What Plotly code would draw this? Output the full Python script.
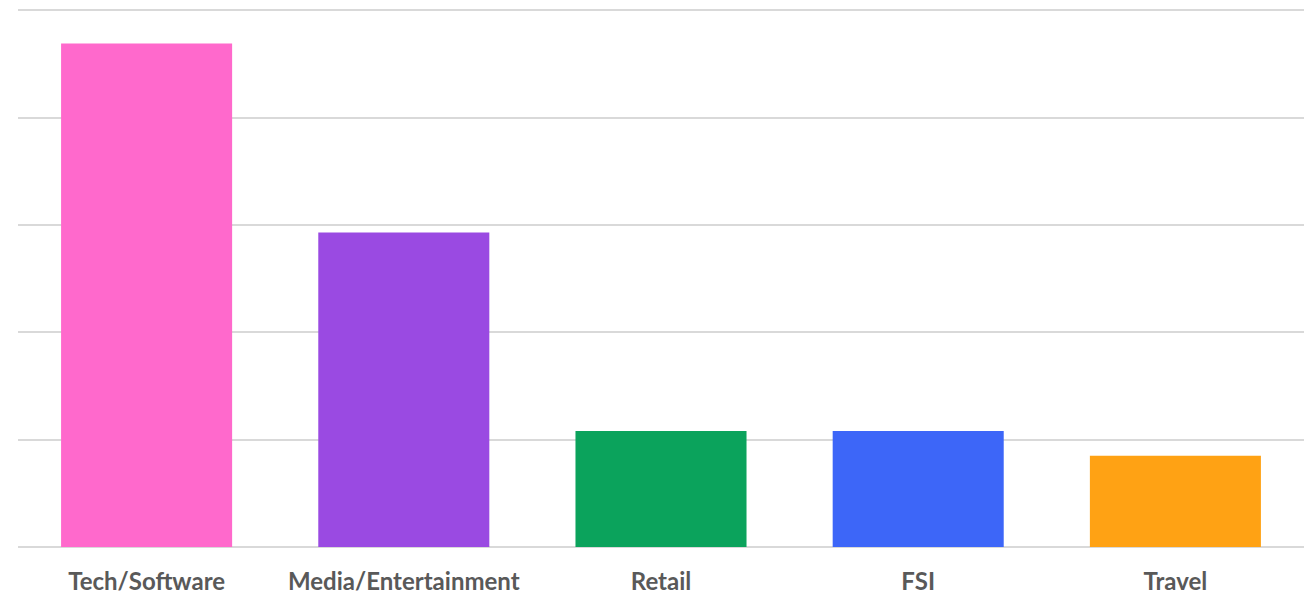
import plotly.graph_objects as go

categories = ["Tech/Software", "Media/Entertainment", "Retail", "FSI", "Travel"]
values = [4.69, 2.93, 1.08, 1.08, 0.85]
colors = ["#FF69CC", "#9A4AE2", "#0BA35C", "#3D66F8", "#FFA214"]

fig = go.Figure(
    go.Bar(
        x=categories,
        y=values,
        marker=dict(color=colors, line=dict(width=0)),
        hoverinfo="x+y",
    )
)

fig.update_layout(
    width=1309,
    height=597,
    margin=dict(l=18, r=5, t=8, b=50),
    paper_bgcolor="white",
    plot_bgcolor="white",
    bargap=0.335,
    showlegend=False,
    font=dict(family="Lato, Open Sans, sans-serif"),
)

fig.update_xaxes(
    showgrid=False,
    showline=False,
    ticks="",
    automargin=False,
    ticklabelstandoff=18,
    tickfont=dict(size=24, color="#595959", family="Lato, Open Sans, sans-serif", weight="bold"),
)

fig.update_yaxes(
    range=[0, 5.02],
    dtick=1,
    showticklabels=False,
    automargin=False,
    showgrid=True,
    gridcolor="#D9D9D9",
    gridwidth=2,
    zeroline=True,
    zerolinecolor="#D9D9D9",
    zerolinewidth=2,
    showline=False,
    ticks="",
)

fig.write_html("out.html")
